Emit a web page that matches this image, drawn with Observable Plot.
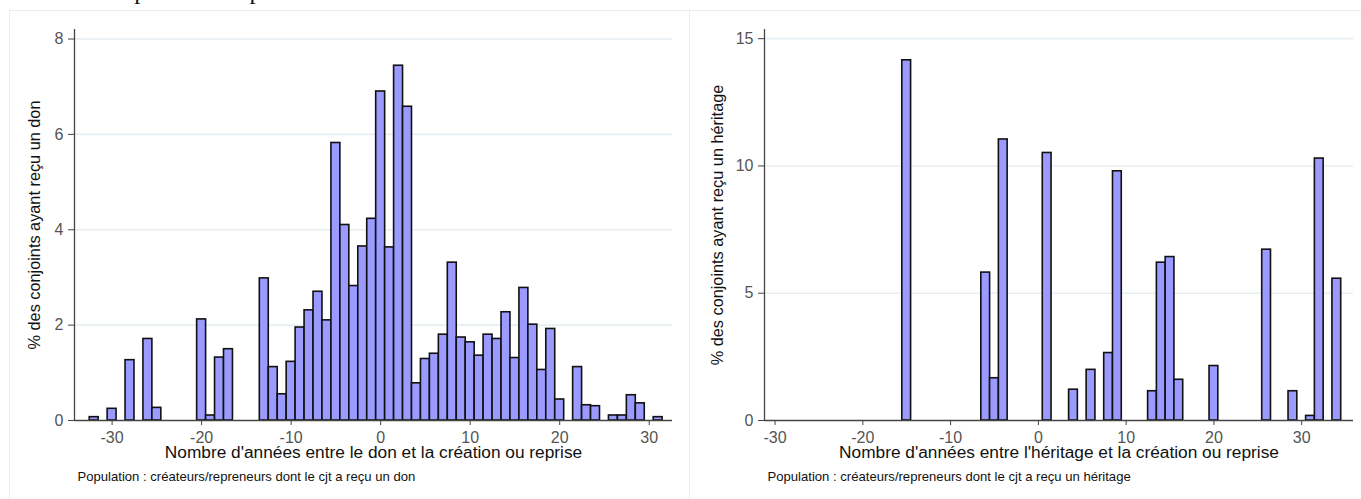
<!DOCTYPE html>
<html>
<head>
<meta charset="utf-8">
<script src="https://cdn.jsdelivr.net/npm/d3@7"></script>
<script src="https://cdn.jsdelivr.net/npm/@observablehq/plot@0.6"></script>
<style>
  html, body { margin: 0; padding: 0; background: #fff; }
  #wrap { position: relative; width: 1361px; height: 499px; overflow: hidden; background: #fff; font-family: "Liberation Sans", Arial, sans-serif; }
  .frame { position: absolute; border: 1px solid #e6eef1; border-bottom: none; box-sizing: border-box; }
  .panel { position: absolute; top: 0; }
  .toptext { position: absolute; left: 2px; top: -24px; font-family: "Liberation Serif", serif; font-size: 25px; line-height: 30px; color: #111; white-space: nowrap; letter-spacing: 1px; }
</style>
</head>
<body>
<div id="wrap">
  <div class="toptext">création / reprise en reprise</div>
  <div class="frame" style="left:9px; top:10px; width:681px; height:500px;"></div>
  <div class="frame" style="left:689px; top:10px; width:680px; height:500px;"></div>
  <div class="panel" id="left" style="left:0px;"></div>
  <div class="panel" id="right" style="left:690px;"></div>
</div>
<script>
// ---- Data: gift (don) panel ----
const donYears  = [-32, -30, -28, -26, -25, -20, -19, -18, -17, -13, -12, -11, -10, -9, -8, -7, -6, -5, -4, -3, -2, -1, 0, 1, 2, 3, 4, 5, 6, 7, 8, 9, 10, 11, 12, 13, 14, 15, 16, 17, 18, 19, 20, 22, 23, 24, 26, 27, 28, 29, 31];
const donValues = [0.07, 0.245, 1.265, 1.71, 0.265, 2.12, 0.105, 1.32, 1.495, 2.98, 1.12, 0.55, 1.23, 1.95, 2.31, 2.70, 2.10, 5.82, 4.10, 2.82, 3.65, 4.23, 6.90, 3.63, 7.44, 6.58, 0.78, 1.29, 1.40, 1.80, 3.31, 1.74, 1.64, 1.36, 1.80, 1.71, 2.27, 1.31, 2.78, 2.01, 1.06, 1.92, 0.44, 1.12, 0.32, 0.30, 0.105, 0.105, 0.53, 0.36, 0.07];

// ---- Data: inheritance (héritage) panel ----
const herYears  = [-15, -6, -5, -4, 1, 4, 6, 8, 9, 13, 14, 15, 16, 20, 26, 29, 31, 32, 34];
const herValues = [14.15, 5.81, 1.66, 11.04, 10.51, 1.21, 1.99, 2.65, 9.79, 1.15, 6.20, 6.42, 1.60, 2.14, 6.71, 1.15, 0.18, 10.29, 5.57];

// ---- Ticks & labels ----
const xTicks = [-30, -20, -10, 0, 10, 20, 30];
const donYTicks = [0, 2, 4, 6, 8];
const herYTicks = [0, 5, 10, 15];
const donXLabel = "Nombre d'années entre le don et la création ou reprise";
const herXLabel = "Nombre d'années entre l'héritage et la création ou reprise";
const donYLabel = "% des conjoints ayant reçu un don";
const herYLabel = "% des conjoints ayant reçu un héritage";
const donCaption = "Population : créateurs/repreneurs dont le cjt a reçu un don";
const herCaption = "Population : créateurs/repreneurs dont le cjt a reçu un héritage";

function panel({years, values, xDomain, yDomain, yTicks, xLabel, yLabel, caption, width, yLabelDx}) {
  const data = years.map((y, i) => ({year: y, value: values[i]}));
  const svg = Plot.plot({
    width, height: 499,
    marginLeft: 74, marginRight: 8, marginTop: 29, marginBottom: 79,
    style: {fontFamily: "Liberation Sans, Arial, sans-serif", fontSize: "15px", background: "transparent", overflow: "visible"},
    x: {domain: xDomain},
    y: {domain: yDomain},
    marks: [
      Plot.gridY(yTicks.filter(t => t > 0), {stroke: "#e6eef2", strokeOpacity: 1, strokeWidth: 1.6}),
      Plot.rectY(data, {x1: d => d.year - 0.5, x2: d => d.year + 0.5, y: "value", fill: "#9a9aff", stroke: "#111", strokeWidth: 1.6, inset: 0}),
      Plot.ruleX([xDomain[0]], {stroke: "#444", strokeWidth: 1.3}),
      Plot.ruleY([0], {stroke: "#444", strokeWidth: 1.3}),
      Plot.axisY({ticks: yTicks, tickSize: 6, tickPadding: 5, tickFormat: d => String(d), label: null, stroke: "#444", fill: "#555", fontSize: 16}),
      Plot.axisX({ticks: xTicks, tickSize: 5, tickPadding: 6, tickFormat: d => String(d), label: null, stroke: "#444", fill: "#555", fontSize: 16}),
      Plot.text([xLabel], {text: d => d, frameAnchor: "bottom", textAnchor: "middle", dy: 37.5, fontSize: 17.3, fill: "#111"}),
      Plot.text([caption], {text: d => d, frameAnchor: "bottom-left", textAnchor: "start", dx: 3, dy: 60, fontSize: 13.1, fill: "#111"}),
      Plot.text([yLabel], {text: d => d, frameAnchor: "left", textAnchor: "middle", dx: yLabelDx, rotate: -90, fontSize: 16.3, fill: "#111"})
    ]
  });
  // enforce tick-label size on every numeric tick text
  svg.querySelectorAll("text").forEach(t => {
    if (/^-?\d+$/.test(t.textContent.trim())) {
      t.setAttribute("font-size", "16");
      t.style.fontSize = "16px";
      if (t.parentNode && t.parentNode.style) t.parentNode.style.fontSize = "16px";
    }
  });
  return svg;
}

document.getElementById("left").appendChild(panel({
  years: donYears, values: donValues, xDomain: [-34.2, 32.6], yDomain: [0, 8.2],
  yTicks: donYTicks, xLabel: donXLabel, yLabel: donYLabel, caption: donCaption, width: 680, yLabelDx: -40
}));
document.getElementById("right").appendChild(panel({
  years: herYears, values: herValues, xDomain: [-31.2, 35.9], yDomain: [0, 15.36],
  yTicks: herYTicks, xLabel: herXLabel, yLabel: herYLabel, caption: herCaption, width: 671, yLabelDx: -47
}));
</script>
</body>
</html>
